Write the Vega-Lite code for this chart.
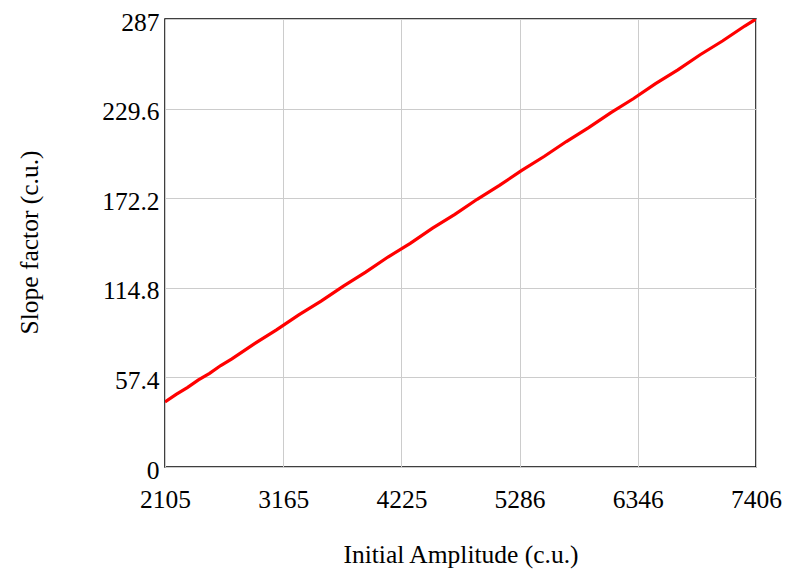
{
  "$schema": "https://vega.github.io/schema/vega-lite/v6.json",
  "width": 591,
  "height": 448,
  "autosize": {"type": "none"},
  "padding": {"left": 165, "top": 19, "right": 34, "bottom": 105},
  "background": "white",
  "config": {
    "view": {"stroke": "black", "strokeWidth": 1.5},
    "font": "Liberation Serif"
  },
  "data": {
    "values": [
      {"amp": 2105, "slope": 41.7},
      {"amp": 2205, "slope": 46.5},
      {"amp": 2305, "slope": 50.9},
      {"amp": 2405, "slope": 55.8},
      {"amp": 2505, "slope": 60.0},
      {"amp": 2605, "slope": 65.0},
      {"amp": 2705, "slope": 69.3},
      {"amp": 2905, "slope": 78.9},
      {"amp": 3105, "slope": 87.8},
      {"amp": 3305, "slope": 97.4},
      {"amp": 3505, "slope": 106.3},
      {"amp": 3705, "slope": 115.9},
      {"amp": 3905, "slope": 124.8},
      {"amp": 4105, "slope": 134.5},
      {"amp": 4305, "slope": 143.3},
      {"amp": 4505, "slope": 153.0},
      {"amp": 4705, "slope": 161.8},
      {"amp": 4905, "slope": 171.5},
      {"amp": 5105, "slope": 180.4},
      {"amp": 5305, "slope": 190.0},
      {"amp": 5505, "slope": 198.9},
      {"amp": 5705, "slope": 208.5},
      {"amp": 5905, "slope": 217.4},
      {"amp": 6105, "slope": 227.0},
      {"amp": 6305, "slope": 235.9},
      {"amp": 6505, "slope": 245.6},
      {"amp": 6705, "slope": 254.4},
      {"amp": 6905, "slope": 264.1},
      {"amp": 7105, "slope": 272.9},
      {"amp": 7305, "slope": 282.5},
      {"amp": 7406, "slope": 287.0}
    ]
  },
  "mark": {"type": "line", "color": "#ff0000", "strokeWidth": 3.2, "clip": true},
  "encoding": {
    "x": {
      "field": "amp",
      "type": "quantitative",
      "scale": {"domain": [2105, 7406], "nice": false, "zero": false},
      "axis": {
        "title": "Initial Amplitude (c.u.)",
        "values": [2105, 3165.2, 4225.4, 5285.6, 6345.8, 7406],
        "format": ".0f",
        "labelFont": "Liberation Serif",
        "labelFontSize": 25.5,
        "labelColor": "black",
        "labelPadding": 32,
        "labelBaseline": "middle",
        "labelFlush": false,
        "ticks": false,
        "domain": false,
        "grid": true,
        "gridColor": "#cccccc",
        "gridWidth": 1,
        "titleFont": "Liberation Serif",
        "titleFontSize": 25.5,
        "titleFontWeight": "normal",
        "titleColor": "black",
        "titleBaseline": "middle",
        "titleY": 87
      }
    },
    "y": {
      "field": "slope",
      "type": "quantitative",
      "scale": {"domain": [0, 287], "nice": false},
      "axis": {
        "title": "Slope factor (c.u.)",
        "values": [0, 57.4, 114.8, 172.2, 229.6, 287],
        "labelExpr": "toString(datum.value)",
        "labelFont": "Liberation Serif",
        "labelFontSize": 25.5,
        "labelColor": "black",
        "labelPadding": 6,
        "labelOffset": 3,
        "labelFlush": false,
        "ticks": false,
        "domain": false,
        "grid": true,
        "gridColor": "#cccccc",
        "gridWidth": 1,
        "titleFont": "Liberation Serif",
        "titleFontSize": 25.5,
        "titleFontWeight": "normal",
        "titleColor": "black",
        "titleAngle": -90,
        "titleAlign": "center",
        "titleBaseline": "middle",
        "titleX": -136,
        "titleY": 223
      }
    }
  }
}
